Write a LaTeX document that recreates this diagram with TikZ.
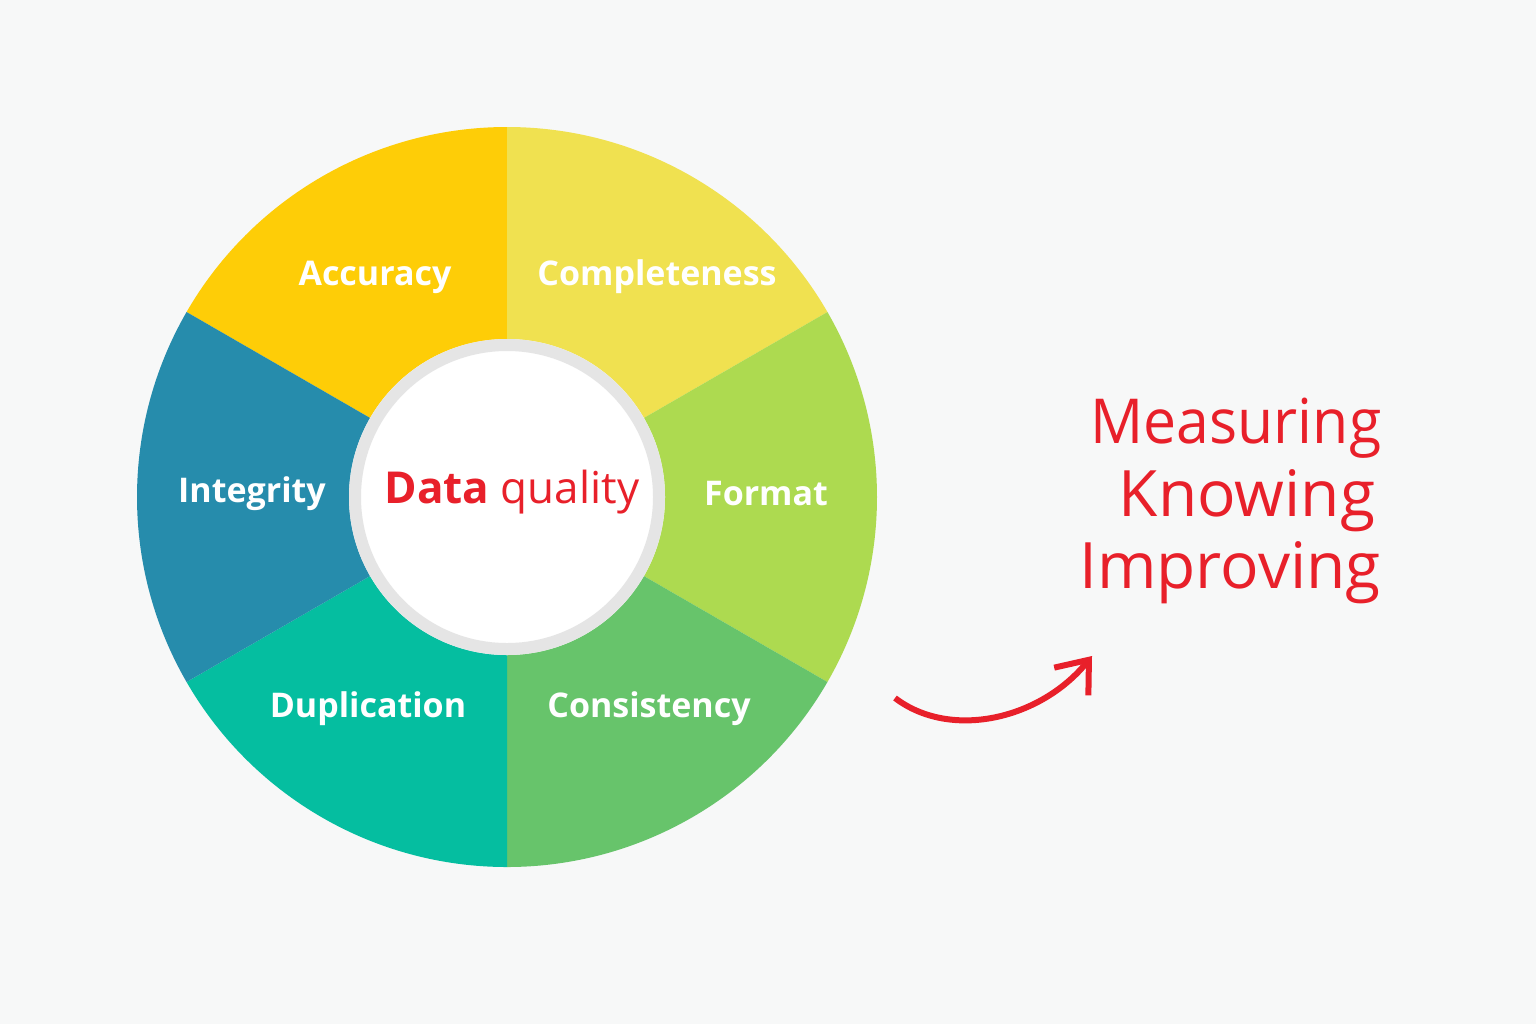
\documentclass[tikz,border=0pt]{standalone}
\usepackage{fontspec}
\setmainfont{Open Sans}
\usetikzlibrary{arrows.meta}
\definecolor{bg}{HTML}{F7F8F8}
\definecolor{cA}{HTML}{FECD07}
\definecolor{cB}{HTML}{F0E150}
\definecolor{cC}{HTML}{ADDA50}
\definecolor{cD}{HTML}{67C46B}
\definecolor{cE}{HTML}{05BEA0}
\definecolor{cF}{HTML}{268CAC}
\definecolor{rd}{HTML}{E8202A}
\begin{document}
\begin{tikzpicture}[x=0.5pt,y=-0.5pt,
  lab/.style={text=white,font=\fontsize{17}{20}\selectfont\bfseries},
  big/.style={text=rd,font=\fontsize{32}{36}\selectfont\addfontfeature{}}]
\fill[bg] (0,0) rectangle (1536,1024);
\useasboundingbox (0,0) rectangle (1536,1024);
\coordinate (c) at (507,497);
\foreach \a/\b/\col in {90/150/cA,30/90/cB,-30/30/cC,-90/-30/cD,210/270/cE,150/210/cF}{
  \fill[\col] (c) -- ++(\a:370 and -370) arc[start angle=-\a,end angle=-\b,radius=370] -- cycle;}
\fill[white] (c) circle[radius=158];
\draw[black!10,line width=6] (c) circle[radius=152];
\node[lab] (acc) at (375,277) {Accuracy};
\node[lab] (com) at (657,277) {Completeness};
\node[lab] (int) at (252,494) {Integrity};
\node[lab] (for) at (766,494) {Format};
\node[lab] (dup) at (368,709) {Duplication};
\node[lab] (con) at (649,709) {Consistency};
\node[text=rd,font=\fontsize{22}{26}\selectfont] (dq) at (512,492) {\textbf{Data} quality};
\node[big,font=\fontsize{31}{36}\selectfont\addfontfeature{FakeStretch=0.95}] (m) at (1236,428) {Measuring};
\node[big] (k) at (1247,501) {Knowing};
\node[big] (i) at (1230,573) {Improving};
\coordinate (s) at (895,698);
\coordinate (e) at (1092,656);
\draw[rd,line width=3,-{Straight Barb[length=14,width=22]}] (s) .. controls (950,740) and (1040,720) .. (e);
\end{tikzpicture}
\end{document}
